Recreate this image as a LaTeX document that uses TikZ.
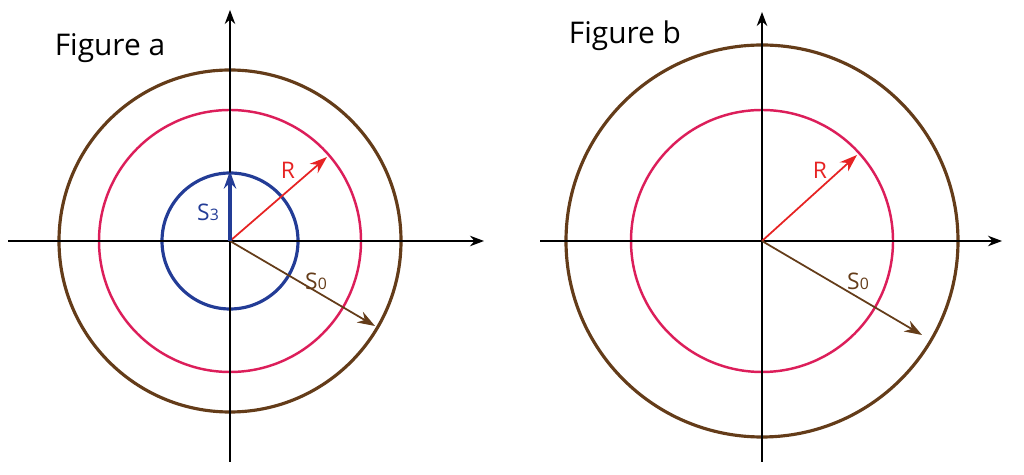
\documentclass[tikz,border=0pt]{standalone}
\usepackage{fontspec}
\setmainfont{Open Sans}
\usetikzlibrary{arrows.meta}
\definecolor{brn}{RGB}{100,60,25}
\definecolor{pnk}{RGB}{220,30,90}
\definecolor{blu}{RGB}{35,60,150}
\definecolor{rd}{RGB}{230,35,35}
\tikzset{axis/.style={-{Stealth[length=8pt,width=6pt]},line width=0.7pt},
 vec/.style={-{Stealth[length=10pt,width=7pt]},line width=1pt},
 lbl/.style={font=\fontsize{13}{13}\selectfont},
 ttl/.style={font=\fontsize{17}{17}\selectfont}}
\begin{document}
\begin{tikzpicture}[x=0.02cm,y=-0.02cm]
\useasboundingbox (0,0) rectangle (1024,475);
% figure a
\coordinate (ca) at (230,241);
\draw[brn,line width=1.8pt] (ca) circle[radius=171];
\draw[pnk,line width=1.4pt] (ca) circle[radius=131];
\draw[blu,line width=1.8pt] (ca) circle[radius=68];
\coordinate (axl) at (8,241); \coordinate (axr) at (484,241);
\coordinate (ayb) at (230,462); \coordinate (ayt) at (230,10);
\draw[axis] (axl) -- (axr);
\draw[axis] (ayb) -- (ayt);
\coordinate (ra) at (327,157);
\coordinate (sa) at (375,326);
\coordinate (s3) at (230,171);
\draw[vec,rd] (ca) -- (ra);
\draw[vec,brn] (ca) -- (sa);
\draw[vec,blu,line width=1.8pt] (ca) -- (s3);
\node[ttl] (fa) at (110,48) {Figure a};
\node[lbl,rd] (la) at (288,170) {R};
\node[lbl,blu] (l3) at (208,212) {S{\fontsize{9}{9}\selectfont 3}};
\node[lbl,brn] (l0) at (316,281) {S{\fontsize{9}{9}\selectfont 0}};
% figure b
\coordinate (cb) at (762,241);
\draw[brn,line width=1.8pt] (cb) circle[radius=196];
\draw[pnk,line width=1.4pt] (cb) circle[radius=131];
\coordinate (bxl) at (540,241); \coordinate (bxr) at (1002,241);
\coordinate (byb) at (762,462); \coordinate (byt) at (762,12);
\draw[axis] (bxl) -- (bxr);
\draw[axis] (byb) -- (byt);
\coordinate (rb) at (857,155);
\coordinate (sb) at (922,335);
\draw[vec,rd] (cb) -- (rb);
\draw[vec,brn] (cb) -- (sb);
\node[ttl] (fb) at (625,36) {Figure b};
\node[lbl,rd] (lb) at (820,170) {R};
\node[lbl,brn] (l0b) at (858,281) {S{\fontsize{9}{9}\selectfont 0}};
\end{tikzpicture}
\end{document}
